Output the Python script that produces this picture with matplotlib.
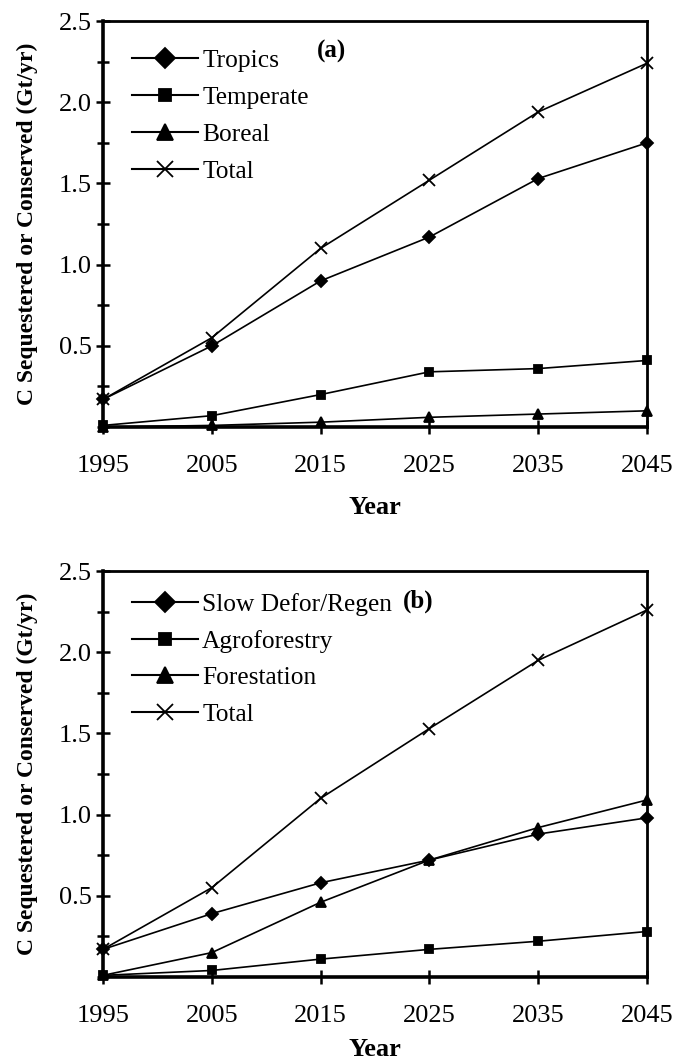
import matplotlib
matplotlib.use("Agg")
import matplotlib.pyplot as plt
from matplotlib.ticker import MultipleLocator, FixedLocator

plt.rcParams['font.family'] = ['Liberation Serif', 'DejaVu Serif']

years = [1995, 2005, 2015, 2025, 2035, 2045]

# Panel (a): by region
tropics = [0.17, 0.50, 0.90, 1.17, 1.53, 1.75]
temperate = [0.01, 0.07, 0.20, 0.34, 0.36, 0.41]
boreal = [0.00, 0.01, 0.03, 0.06, 0.08, 0.10]
total_a = [0.17, 0.55, 1.10, 1.52, 1.94, 2.24]

# Panel (b): by practice
slow_defor = [0.17, 0.39, 0.58, 0.72, 0.88, 0.98]
agroforestry = [0.01, 0.04, 0.11, 0.17, 0.22, 0.28]
forestation = [0.01, 0.15, 0.46, 0.72, 0.92, 1.09]
total_b = [0.17, 0.55, 1.10, 1.53, 1.95, 2.26]

labels_a = ["Tropics", "Temperate", "Boreal", "Total"]
labels_b = ["Slow Defor/Regen", "Agroforestry", "Forestation", "Total"]
markers = ["D", "s", "^", "x"]
marker_sizes = [6.5, 6, 7.5, 8]

yticks = [0.5, 1.0, 1.5, 2.0, 2.5]
ytick_labels = ["0.5", "1.0", "1.5", "2.0", "2.5"]
ylabel = "C Sequestered or Conserved (Gt/yr)"

fig = plt.figure(figsize=(6.75, 10.61), dpi=100)
ax_a = fig.add_axes([0.1526, 0.5975, 0.8059, 0.3827])
ax_b = fig.add_axes([0.1526, 0.0792, 0.8059, 0.3826])


def draw_panel(ax, series, labels, tag, tag_x, legend_top, xlabel_pad):
    for vals, lab, m, ms in zip(series, labels, markers, marker_sizes):
        ax.plot(years, vals, color='black', lw=1.2, marker=m, ms=ms,
                mew=1.3, mfc='black', mec='black', label=lab, clip_on=False)
    ax.set_xlim(1995, 2045)
    ax.set_ylim(0, 2.5)
    ax.set_xticks(years)
    ax.set_xticklabels([str(y) for y in years])
    ax.yaxis.set_major_locator(FixedLocator(yticks))
    ax.set_yticklabels(ytick_labels)
    ax.yaxis.set_minor_locator(MultipleLocator(0.25))
    ax.tick_params(axis='both', which='both', direction='inout', width=1.8,
                   labelsize=19, top=False, right=False)
    ax.tick_params(axis='y', which='major', length=10, pad=3)
    ax.tick_params(axis='y', which='minor', length=9)
    ax.tick_params(axis='x', which='major', length=10, pad=15)
    for side in ['left', 'bottom']:
        ax.spines[side].set_linewidth(2.6)
    for side in ['top', 'right']:
        ax.spines[side].set_linewidth(2.0)
    ax.set_xlabel("Year", fontsize=19, fontweight='bold', labelpad=xlabel_pad)
    ax.set_ylabel(ylabel, fontsize=17, fontweight='bold', labelpad=15)
    ax.text(tag_x, 0.925, tag, transform=ax.transAxes, fontsize=18,
            fontweight='bold', ha='center', va='center')
    leg = ax.legend(loc='upper left', bbox_to_anchor=(0.035, legend_top),
                    frameon=False, fontsize=18.3, markerscale=1.5,
                    handlelength=2.6, handletextpad=0.15, labelspacing=0.55,
                    borderaxespad=0.0)
    for line in leg.get_lines():
        line.set_linewidth(1.5)


draw_panel(ax_a, [tropics, temperate, boreal, total_a], labels_a, "(a)", 0.42,
           0.955, 14)
draw_panel(ax_b, [slow_defor, agroforestry, forestation, total_b], labels_b, "(b)", 0.58,
           0.972, 8)

fig.savefig("out.png", dpi=100)
